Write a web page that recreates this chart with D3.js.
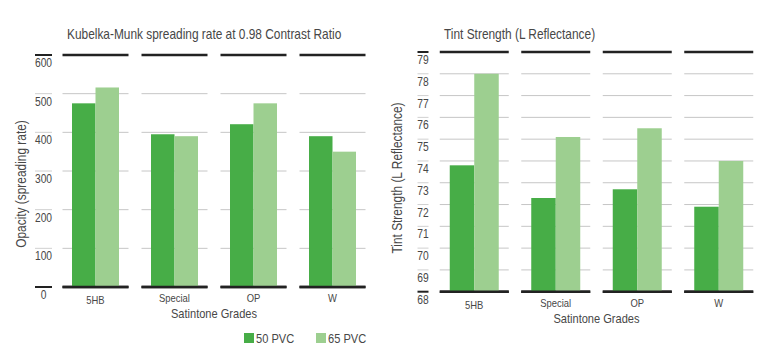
<!DOCTYPE html>
<html>
<head>
<meta charset="utf-8">
<script src="https://cdn.jsdelivr.net/npm/d3@7"></script>
<style>
  body { margin: 0; background: #fff; }
  text { font-family: "Liberation Sans", Arial, sans-serif; fill: #474747; }
</style>
</head>
<body>
<div id="chart"></div>
<script>
// data
var grades = ["5HB", "Special", "OP", "W"];
var seriesNames = ["50 PVC", "65 PVC"];
var opacity50 = [475, 395, 421, 390];
var opacity65 = [516, 390, 475, 350];
var tint50 = [73.8, 72.3, 72.7, 71.9];
var tint65 = [78.0, 75.1, 75.5, 74.0];
var opacityTicks = [0, 100, 200, 300, 400, 500, 600];
var tintTicks = [68, 69, 70, 71, 72, 73, 74, 75, 76, 77, 78, 79];

var colors = ["#47ad47", "#9dcf90"];
var narrow = 0.82; // squeeze text to look like a condensed face

var svg = d3.select("#chart")
    .append("svg")
    .attr("width", 783)
    .attr("height", 353);

function squeeze(sel) {
    sel.each(function() {
        var w = this.getComputedTextLength();
        d3.select(this)
            .attr("textLength", w * narrow)
            .attr("lengthAdjust", "spacingAndGlyphs");
    });
    return sel;
}

function drawChart(opts) {
    var g = svg.append("g");
    var x = d3.scaleBand().domain(grades).range(opts.xRange);
    var y = d3.scaleLinear().domain(opts.domain).range(opts.yRange);
    var sub = d3.scaleBand().domain([0, 1]).range([-opts.groupW / 2, opts.groupW / 2]);

    // gridline segments per category
    opts.ticks.forEach(function(t, i) {
        var edge = (i == 0 || i == opts.ticks.length - 1);
        grades.forEach(function(c) {
            g.append("line")
                .attr("x1", x(c) + x.bandwidth() / 2 - opts.segW / 2)
                .attr("x2", x(c) + x.bandwidth() / 2 + opts.segW / 2)
                .attr("y1", y(t))
                .attr("y2", y(t))
                .style("stroke", edge ? "#222" : "#c6c6c6")
                .style("stroke-width", edge ? 2.5 : 1);
        });
        g.append("line")
            .attr("x1", opts.tickX - opts.tickW / 2)
            .attr("x2", opts.tickX + opts.tickW / 2)
            .attr("y1", y(t))
            .attr("y2", y(t))
            .style("stroke", edge ? "#222" : "#d0d0d0")
            .style("stroke-width", edge ? 2 : 1);
        squeeze(g.append("text")
            .attr("x", opts.tickX)
            .attr("y", y(t) + 12)
            .attr("text-anchor", "middle")
            .style("font-size", "12.5px")
            .text(t));
    });

    // bars
    [opts.values[0], opts.values[1]].forEach(function(vals, s) {
        g.selectAll(".bar" + s)
            .data(vals)
            .enter()
            .append("rect")
            .attr("x", function(d, i) { return x(grades[i]) + x.bandwidth() / 2 + sub(s); })
            .attr("width", sub.bandwidth())
            .attr("y", function(d) { return y(d); })
            .attr("height", function(d) { return y(opts.domain[0]) - y(d); })
            .style("fill", colors[s]);
    });

    // bottom line redrawn over the bars
    grades.forEach(function(c) {
        g.append("line")
            .attr("x1", x(c) + x.bandwidth() / 2 - opts.segW / 2)
            .attr("x2", x(c) + x.bandwidth() / 2 + opts.segW / 2)
            .attr("y1", y(opts.domain[0]))
            .attr("y2", y(opts.domain[0]))
            .style("stroke", "#222")
            .style("stroke-width", 2.5);
    });

    // category labels
    grades.forEach(function(c) {
        squeeze(g.append("text")
            .attr("x", x(c) + x.bandwidth() / 2)
            .attr("y", y(opts.domain[0]) + (c == "5HB" ? 17 : 15))
            .attr("text-anchor", "middle")
            .style("font-size", "11.5px")
            .text(c));
    });

    squeeze(g.append("text")
        .attr("x", (opts.xRange[0] + opts.xRange[1]) / 2)
        .attr("y", y(opts.domain[0]) + 31)
        .attr("text-anchor", "middle")
        .style("font-size", "13.5px")
        .text("Satintone Grades"));

    squeeze(g.append("text")
        .attr("x", opts.titleX)
        .attr("y", 39)
        .style("font-size", "14.5px")
        .text(opts.title));

    squeeze(g.append("text")
        .attr("transform", "translate(" + opts.yTitleX + "," + opts.yTitleY + ") rotate(-90)")
        .attr("text-anchor", "middle")
        .style("font-size", "14.5px")
        .text(opts.yTitle));
}

drawChart({
    values: [opacity50, opacity65],
    ticks: opacityTicks,
    domain: [0, 600],
    yRange: [287, 55],
    xRange: [56, 372],
    segW: 66,
    groupW: 47,
    tickX: 43.5,
    tickW: 17,
    title: "Kubelka-Munk spreading rate at 0.98 Contrast Ratio",
    titleX: 67,
    yTitle: "Opacity (spreading rate)",
    yTitleX: 26,
    yTitleY: 184
});

drawChart({
    values: [tint50, tint65],
    ticks: tintTicks,
    domain: [68, 79],
    yRange: [291.7, 52],
    xRange: [433.5, 759.5],
    segW: 69,
    groupW: 49,
    tickX: 423,
    tickW: 11,
    title: "Tint Strength (L Reflectance)",
    titleX: 444,
    yTitle: "Tint Strength (L Reflectance)",
    yTitleX: 402,
    yTitleY: 178
});

// legend
var legend = svg.append("g");
var legendX = [244, 316];
seriesNames.forEach(function(name, i) {
    legend.append("rect")
        .attr("x", legendX[i])
        .attr("y", 333)
        .attr("width", 10)
        .attr("height", 10)
        .style("fill", colors[i]);
    squeeze(legend.append("text")
        .attr("x", legendX[i] + 12)
        .attr("y", 343)
        .style("font-size", "13.5px")
        .text(name));
});
</script>
</body>
</html>
